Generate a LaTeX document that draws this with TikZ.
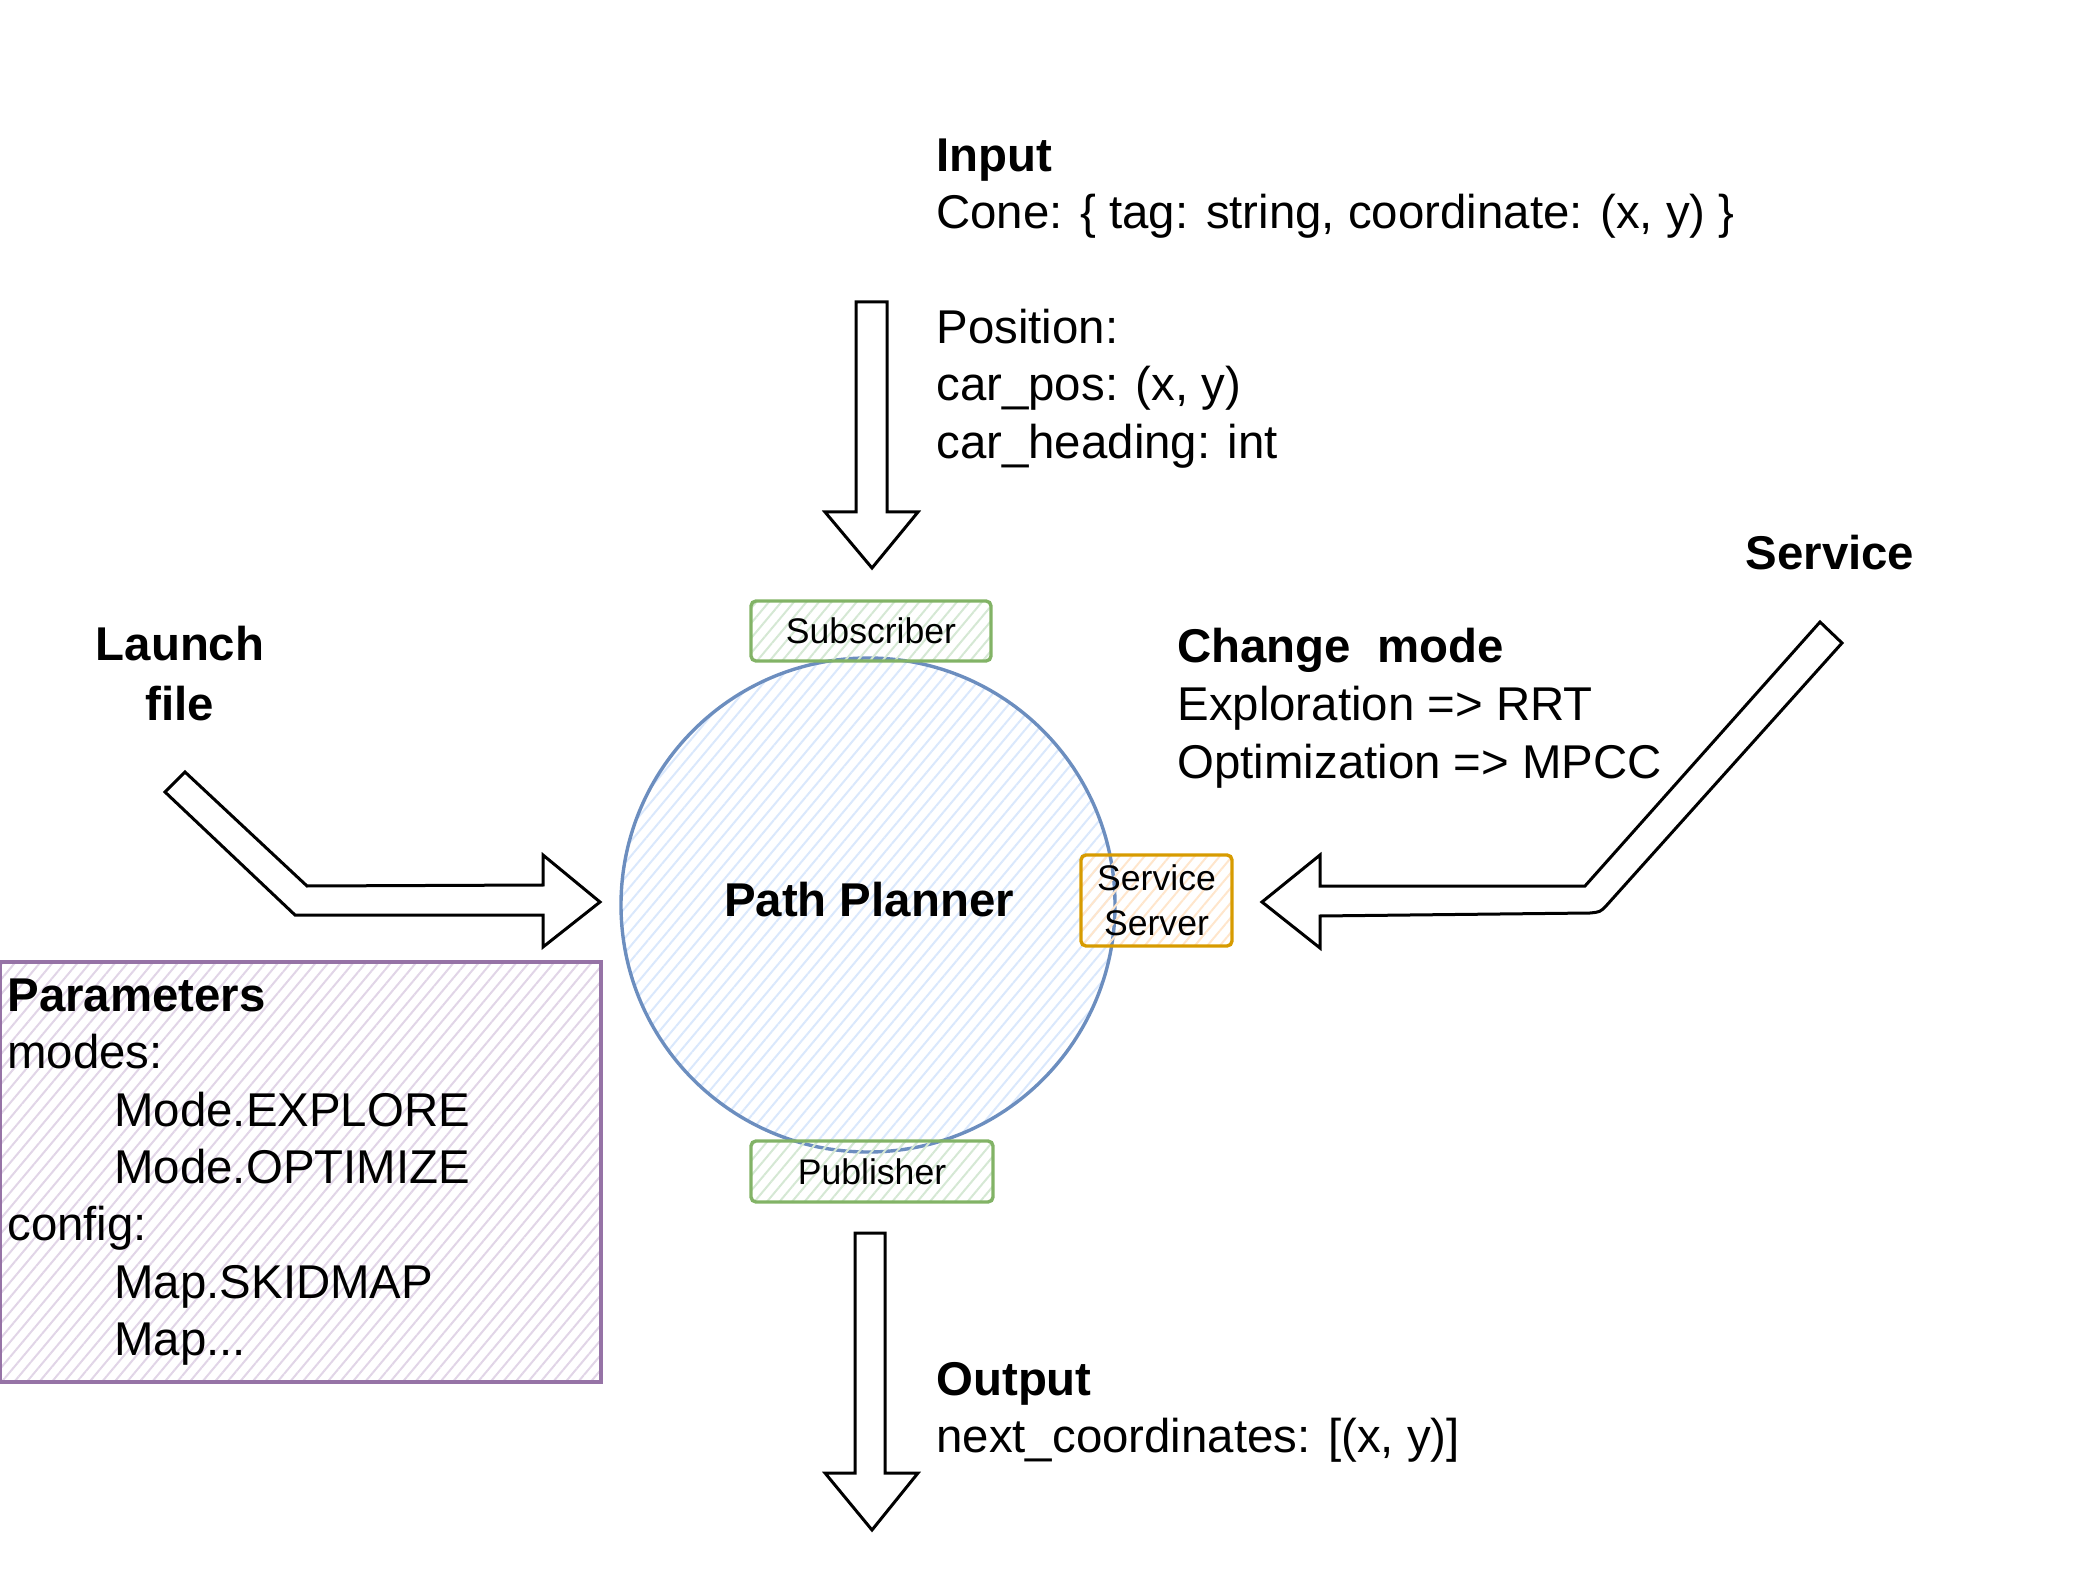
\documentclass[tikz,border=0pt]{standalone}
\usepackage{fontspec}
\setmainfont{Liberation Sans}
\usetikzlibrary{patterns.meta}
\definecolor{blueS}{HTML}{6C8EBF}
\definecolor{blueF}{HTML}{DAE8FC}
\definecolor{greenS}{HTML}{82B366}
\definecolor{greenF}{HTML}{D5E8D4}
\definecolor{orangeS}{HTML}{D79B00}
\definecolor{orangeF}{HTML}{FFE6CC}
\definecolor{purpleS}{HTML}{9673A6}
\definecolor{purpleF}{HTML}{E1D5E7}
\begin{document}
\begin{tikzpicture}[x=0.5pt,y=-0.5pt,
  txt/.style={font=\fontsize{23.7}{28.65}\selectfont, inner sep=0pt, anchor=base west},
  btxt/.style={font=\fontsize{23.7}{28.65}\selectfont\bfseries, inner sep=0pt, anchor=base west},
  smalltxt/.style={font=\fontsize{17.8}{22.5}\selectfont},
  hatch/.style={pattern={Lines[angle=50,distance=4.8pt,line width=1pt]}, pattern color=#1},
  blockarrow/.style={draw=black, line width=1.5pt, fill=white},
  sbox/.style={rectangle, rounded corners=2.5pt, line width=1.7pt, inner sep=0pt}
]
\useasboundingbox (0,0) rectangle (2073,1593);

% central process
\node[circle, draw=blueS, line width=1.7pt, hatch=blueF, minimum size=247pt, inner sep=0pt] (planner) at (868,905) {};
\node[btxt, anchor=base] (plannerLabel) at (869,916) {Path Planner};

% ports
\node[sbox, draw=greenS, hatch=greenF, minimum width=120pt, minimum height=30pt, smalltxt] (sub) at (871,631) {Subscriber};
\node[sbox, draw=greenS, hatch=greenF, minimum width=121pt, minimum height=30.5pt, smalltxt] (pub) at (872,1171.5) {Publisher};
\node[sbox, draw=orangeS, hatch=orangeF, minimum width=75.5pt, minimum height=45.5pt, smalltxt, align=center] (srv) at (1156.5,900.5) {Service\\Server};

% parameters box
\node[sbox, rounded corners=0pt, draw=purpleS, hatch=purpleF, minimum width=300.5pt, minimum height=210pt] (params) at (300.5,1172) {};

% block arrows
\draw[blockarrow] (856,302) -- (887,302) -- (887,512) -- (918,512) -- (872,568) -- (825,512) -- (856,512) -- cycle;
\draw[blockarrow] (855,1233) -- (885,1233) -- (885,1473) -- (918,1473) -- (872,1530) -- (825,1473) -- (855,1473) -- cycle;
\draw[blockarrow] (185,772) -- (307,886) -- (543,885) -- (543,855) -- (600,902) -- (543,947) -- (543,915) -- (295,915) -- (165,792) -- cycle;
\draw[blockarrow] (1820,622) -- (1842,643) -- (1606,906) .. controls (1600,912) .. (1590,913) -- (1320,916) -- (1320,948) -- (1262,902) -- (1320,855) -- (1320,886) -- (1585,886) -- cycle;

% input text
\node[btxt] (inTitle) at (936,172) {Input};
\node[txt] (inCone) at (936,229) {Cone: \{ tag: string, coordinate: (x, y) \}};
\node[txt] (inPos) at (936,344) {Position:};
\node[txt] (inCarPos) at (936,401) {car\_pos: (x, y)};
\node[txt] (inHead) at (936,459) {car\_heading: int};

% output text
\node[btxt] (outTitle) at (936,1395) {Output};
\node[txt] (outNext) at (936,1452) {next\_coordinates: [(x, y)]};

% launch file
\node[btxt, anchor=base] (launch1) at (180,661) {Launch};
\node[btxt, anchor=base] (launch2) at (180,720) {file};

% service
\node[btxt, anchor=base] (service) at (1830,570) {Service};
\node[btxt] (chTitle) at (1177,663) {Change~~mode};
\node[txt] (chExp) at (1177,720) {Exploration => RRT};
\node[txt] (chOpt) at (1177,778) {Optimization => MPCC};

% parameters text
\node[btxt] (pTitle) at (7,1011) {Parameters};
\node[txt] (pModes) at (7,1068) {modes:};
\node[txt] (pExplore) at (114,1126) {Mode.EXPLORE};
\node[txt] (pOptimize) at (114,1183) {Mode.OPTIMIZE};
\node[txt] (pConfig) at (7,1240) {config:};
\node[txt] (pSkid) at (114,1298) {Map.SKIDMAP};
\node[txt] (pMap) at (114,1355) {Map...};
\end{tikzpicture}
\end{document}
